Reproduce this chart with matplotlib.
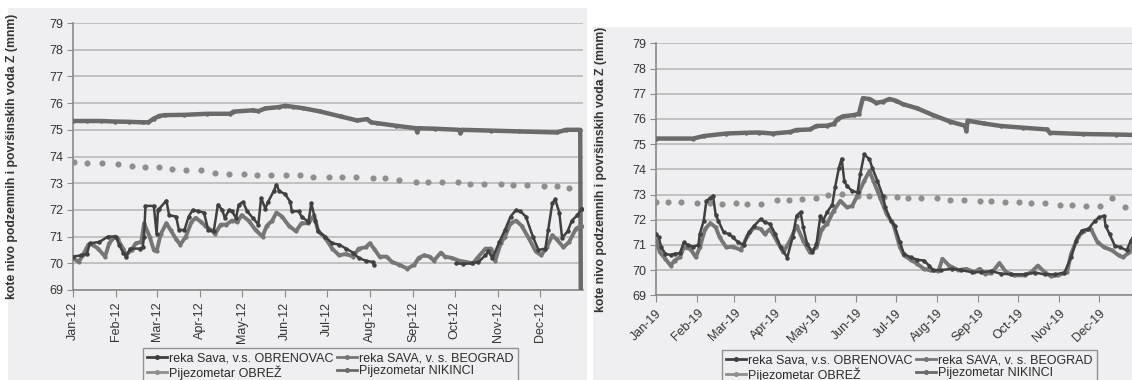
import numpy as np
import matplotlib
matplotlib.use('Agg')
import matplotlib.pyplot as plt
import matplotlib.dates as mdates
from matplotlib.patches import Rectangle
from matplotlib.lines import Line2D

plt.rcParams['font.family'] = ['Liberation Sans', 'DejaVu Sans']

# ---------------------------------------------------------------------------
# 2012 series (day of year, level in m a.s.l.)
sava_obr_12_day = [0, 6, 10, 12, 19, 25, 31, 33, 36, 38, 41, 48, 50, 51, 52, 58, 60, 61, 62, 67,
                   69, 74, 76, 80, 83, 86, 90, 94, 97, 101, 104, 107, 109, 112, 114, 117, 119, 122,
                   125, 129, 133, 135, 138, 140, 144, 146, 148, 152, 156, 157, 162, 164, 169, 171,
                   174, 176, 181, 186, 191, 196, 201, 205, 210, 215, 216, 245,
                   275, 280, 286, 291, 296, 298, 301, 306, 310, 314, 318, 321, 325, 330, 334, 339,
                   341, 344, 346, 349, 351, 355, 358, 362, 365]
sava_obr_12 = [70.25, 70.3, 70.35, 70.75, 70.8, 71.0, 71.0, 70.7, 70.4, 70.25, 70.55, 70.55, 70.6,
               71.0, 72.15, 72.15, 71.1, 72.0, 72.05, 72.35, 71.8, 71.75, 71.25, 71.25, 71.75, 72.0,
               71.95, 71.9, 71.25, 71.2, 72.2, 72.0, 71.7, 72.0, 71.95, 71.7, 72.2, 72.3, 71.95,
               71.7, 71.45, 72.45, 72.05, 72.3, 72.7, 72.95, 72.7, 72.6, 72.3, 71.95, 71.95, 71.75,
               71.55, 72.25, 71.6, 71.2, 71.0, 70.75, 70.7, 70.55, 70.4, 70.2, 70.1, 70.05, 69.95,
               np.nan,
               70.0, 69.98, 70.0, 70.05, 70.3, 70.45, 70.2, 70.8, 71.25, 71.75, 72.0, 71.95, 71.75,
               71.0, 70.5, 70.55, 71.25, 72.25, 72.4, 71.9, 70.95, 71.2, 71.6, 71.8, 72.05]

sava_bg_12_day = [0, 4, 7, 11, 14, 18, 23, 26, 30, 32, 36, 38, 42, 45, 49, 51, 55, 58, 60, 63, 67,
                  70, 74, 77, 81, 85, 88, 92, 95, 99, 102, 106, 110, 114, 118, 121, 126, 131, 136,
                  139, 143, 146, 150, 155, 160, 164, 169, 173, 176, 181, 186, 191, 196, 201, 205,
                  210, 213, 216, 220, 225, 229, 234, 240, 245, 248, 252, 256, 259, 264, 267, 272,
                  277, 282, 287, 291, 296, 300, 303, 307, 310, 314, 318, 322, 327, 332, 336, 340,
                  344, 347, 352, 356, 361, 365]
sava_bg_12 = [70.2, 70.05, 70.3, 70.7, 70.7, 70.55, 70.25, 70.75, 71.0, 70.9, 70.55, 70.3, 70.5,
              70.75, 70.8, 71.5, 71.0, 70.5, 70.45, 71.1, 71.5, 71.25, 70.9, 70.7, 71.0, 71.55,
              71.7, 71.55, 71.4, 71.25, 71.1, 71.45, 71.45, 71.6, 71.55, 71.8, 71.6, 71.25, 71.0,
              71.4, 71.6, 71.9, 71.75, 71.4, 71.2, 71.5, 71.5, 71.8, 71.2, 70.95, 70.55, 70.3,
              70.35, 70.25, 70.55, 70.6, 70.75, 70.55, 70.25, 70.25, 70.05, 69.95, 69.8, 69.95,
              70.2, 70.3, 70.25, 70.1, 70.4, 70.25, 70.2, 70.1, 70.05, 70.0, 70.25, 70.55, 70.55,
              70.1, 70.75, 71.0, 71.5, 71.6, 71.4, 70.95, 70.45, 70.3, 70.6, 71.05, 70.9, 70.6,
              70.8, 71.3, 71.4]

nikinci_12_day = [0, 10, 20, 30, 40, 50, 54, 58, 62, 66, 80, 96, 113, 115, 129, 133, 138, 148, 152,
                  158, 165, 177, 192, 204, 211, 214, 218, 232, 246, 247, 248, 260, 277, 278, 279,
                  300, 320, 347, 354, 364, 365]
nikinci_12 = [75.33, 75.33, 75.33, 75.31, 75.3, 75.28, 75.28, 75.42, 75.52, 75.55, 75.56, 75.6,
              75.6, 75.68, 75.73, 75.7, 75.8, 75.85, 75.9, 75.86, 75.81, 75.69, 75.5, 75.35, 75.4,
              75.28, 75.25, 75.15, 75.06, 74.92, 75.06, 75.04, 75.0, 74.88, 75.0, 74.97, 74.94,
              74.9, 75.0, 75.0, 60.0]

obrez_12_day = [1, 10, 21, 32, 42, 52, 62, 71, 81, 92, 102, 112, 123, 132, 142, 153, 163, 172, 184,
                193, 203, 215, 224, 234, 246, 255, 265, 276, 285, 295, 307, 316, 326, 338, 347, 356]
obrez_12 = [73.79, 73.75, 73.75, 73.71, 73.66, 73.6, 73.6, 73.54, 73.48, 73.5, 73.4, 73.35, 73.35,
            73.31, 73.31, 73.31, 73.29, 73.25, 73.25, 73.25, 73.22, 73.19, 73.19, 73.12, 73.06,
            73.03, 73.03, 73.03, 72.98, 72.98, 72.98, 72.93, 72.93, 72.88, 72.88, 72.81]

# ---------------------------------------------------------------------------
# 2019 series
sava_obr_19_day = [0, 2, 4, 7, 11, 14, 18, 21, 24, 28, 32, 33, 36, 38, 41, 43, 45, 47, 51, 55, 58,
                   62, 66, 70, 74, 79, 82, 86, 90, 94, 99, 103, 106, 109, 111, 114, 118, 121, 124,
                   126, 129, 133, 135, 138, 140, 142, 144, 148, 152, 154, 157, 161, 163, 167, 171,
                   173, 177, 180, 184, 187, 192, 197, 202, 206, 209, 215, 223, 230, 238, 245, 253,
                   260, 268, 278, 286, 293, 301, 308, 313, 317, 321, 326, 331, 334, 338, 339, 342,
                   346, 350, 355, 358, 362]
sava_obr_19 = [71.43, 71.3, 70.9, 70.65, 70.6, 70.65, 70.67, 71.1, 71.0, 70.93, 71.0, 71.43, 71.96,
               72.75, 72.86, 72.95, 72.2, 71.96, 71.5, 71.43, 71.3, 71.1, 71.0, 71.5, 71.76, 72.03,
               71.9, 71.83, 71.43, 70.9, 70.5, 71.3, 72.16, 72.3, 71.7, 71.04, 70.7, 71.04, 72.16,
               71.96, 72.3, 72.6, 73.28, 74.07, 74.42, 73.54, 73.34, 73.14, 73.08, 73.8, 74.59,
               74.4, 74.07, 73.54, 72.95, 72.49, 71.96, 71.76, 71.1, 70.64, 70.51, 70.41, 70.38,
               70.18, 70.0, 70.0, 70.05, 70.0, 69.92, 69.92, 69.96, 69.86, 69.83, 69.83, 69.9,
               69.83, 69.83, 69.9, 70.51, 71.17, 71.57, 71.63, 71.96, 72.09, 72.16, 71.76, 71.43,
               70.97, 70.91, 70.78, 71.17, 71.5]

sava_bg_19_day = [0, 3, 7, 11, 14, 18, 21, 26, 30, 33, 37, 41, 45, 48, 53, 58, 64, 69, 74, 79, 82,
                  86, 91, 96, 101, 106, 111, 116, 121, 125, 129, 134, 139, 144, 148, 153, 157, 161,
                  164, 169, 174, 179, 184, 187, 192, 197, 202, 207, 213, 216, 221, 228, 234, 240,
                  244, 248, 253, 259, 264, 270, 278, 283, 288, 293, 298, 303, 310, 313, 318, 323,
                  328, 333, 338, 344, 349, 352, 357, 362]
sava_bg_19 = [71.17, 70.7, 70.45, 70.18, 70.38, 70.51, 70.9, 70.84, 70.51, 70.9, 71.63, 71.86,
              71.7, 71.3, 70.9, 70.93, 70.8, 71.37, 71.7, 71.63, 71.43, 71.63, 71.17, 70.7, 71.17,
              71.76, 71.17, 70.7, 70.9, 71.63, 71.83, 72.36, 72.75, 72.49, 72.55, 73.08, 73.54,
              73.93, 73.54, 72.88, 72.22, 71.83, 70.9, 70.58, 70.41, 70.25, 70.05, 69.99, 69.96,
              70.45, 70.18, 70.0, 70.05, 69.92, 70.05, 69.86, 69.88, 70.28, 69.92, 69.79, 69.79,
              69.92, 70.18, 69.92, 69.75, 69.79, 69.92, 70.64, 71.3, 71.57, 71.63, 71.1, 70.91,
              70.78, 70.58, 70.51, 70.7, 71.3]

nikinci_19_day = [0, 28, 36, 53, 68, 78, 88, 101, 106, 116, 121, 129, 134, 137, 141, 149, 153, 156,
                  161, 166, 171, 176, 181, 186, 197, 209, 222, 233, 234, 235, 247, 260, 277, 295,
                  297, 322, 347, 364]
nikinci_19 = [75.22, 75.22, 75.32, 75.42, 75.45, 75.46, 75.42, 75.48, 75.56, 75.58, 75.72, 75.73,
              75.8, 76.0, 76.1, 76.15, 76.2, 76.82, 76.79, 76.64, 76.68, 76.79, 76.72, 76.59,
              76.42, 76.15, 75.89, 75.73, 75.53, 75.93, 75.82, 75.72, 75.65, 75.58, 75.45, 75.4,
              75.38, 75.36]

obrez_19_day = [0, 9, 19, 31, 41, 50, 60, 69, 79, 91, 100, 110, 121, 130, 140, 152, 161, 172, 182,
                190, 200, 212, 222, 232, 244, 253, 263, 274, 283, 293, 305, 314, 324, 335, 344, 354]
obrez_19 = [72.72, 72.7, 72.7, 72.68, 72.66, 72.64, 72.68, 72.64, 72.64, 72.78, 72.78, 72.82,
            72.88, 72.97, 73.01, 72.95, 72.95, 72.9, 72.9, 72.86, 72.86, 72.86, 72.8, 72.8, 72.75,
            72.75, 72.71, 72.71, 72.66, 72.66, 72.59, 72.59, 72.54, 72.54, 72.86, 72.49]

lab_obr = 'reka Sava, v.s. OBRENOVAC'
lab_bg = 'reka SAVA, v. s. BEOGRAD'
lab_obrez = 'Pijezometar OBREŽ'
lab_nik = 'Pijezometar NIKINCI'
ylab = 'kote nivo podzemnih i površinskih voda Z (mnm)'

bg = '#efeff1'
c_obr = '#404040'
c_bg = '#767676'
c_nik = '#6a6a6a'
c_obrez = '#8e8e8e'
ftsize = 9

W, H = 1132, 380
fig = plt.figure(figsize=(W / 100, H / 100), dpi=100)
fig.patch.set_facecolor('white')

# gray panels behind each chart
fig.add_artist(Rectangle((8 / W, 0), 579 / W, 372 / H, transform=fig.transFigure,
                         facecolor=bg, edgecolor='none', zorder=-10))
fig.add_artist(Rectangle((593 / W, 0), 539 / W, 353 / H, transform=fig.transFigure,
                         facecolor=bg, edgecolor='none', zorder=-10))


def to_dates(year, days):
    return np.datetime64('%d-01-01' % year) + np.array(days).astype('timedelta64[D]')


def draw(ax, year, obr_d, obr, bgd_d, bgd, nik_d, nik, ob_d, ob):
    ax.set_facecolor(bg)
    ax.plot(to_dates(year, nik_d), nik, color=c_nik, lw=3.2, marker='o', ms=2.2, zorder=3)
    ax.plot(to_dates(year, ob_d), ob, color=c_obrez, lw=0, marker='o', ms=3.4, zorder=3)
    ax.plot(to_dates(year, bgd_d), bgd, color=c_bg, lw=2.8, marker='o', ms=2.0, zorder=4)
    ax.plot(to_dates(year, obr_d), obr, color=c_obr, lw=1.8, marker='o', ms=2.2, zorder=5)

    ax.set_ylim(69, 79)
    ax.set_yticks(range(69, 80))
    ax.set_xlim(np.datetime64('%d-01-01' % year), np.datetime64('%d-01-01' % (year + 1)))
    months = [np.datetime64('%d-%02d-01' % (year, m)) for m in range(1, 13)]
    ax.set_xticks(months)
    ax.xaxis.set_major_formatter(mdates.DateFormatter('%b-%y'))
    ax.grid(axis='y', color='#b4b4b4', lw=1.1)
    ax.set_axisbelow(True)
    for s in ['top', 'right']:
        ax.spines[s].set_visible(False)
    for s in ['left', 'bottom']:
        ax.spines[s].set_color('#8a8a8a')
        ax.spines[s].set_linewidth(1.2)
    ax.tick_params(axis='x', direction='out', length=5, color='#8a8a8a', labelsize=ftsize,
                   labelcolor='#333333')
    ax.tick_params(axis='y', direction='out', length=4, color='#8a8a8a', labelsize=ftsize,
                   labelcolor='#333333', pad=3)
    ax.set_ylabel(ylab, fontsize=8.8, fontweight='bold', color='#333333')


# legend keys: short line with a marker for every series
keys = [Line2D([], [], color=c_obr, lw=2.0, marker='o', ms=2.6),
        Line2D([], [], color=c_obrez, lw=2.0, marker='o', ms=2.6),
        Line2D([], [], color=c_bg, lw=2.0, marker='o', ms=2.6),
        Line2D([], [], color=c_nik, lw=2.0, marker='o', ms=2.6)]
key_labels = [lab_obr, lab_obrez, lab_bg, lab_nik]


def add_legend(x0, y0):
    leg = fig.legend(keys, key_labels, loc='upper left',
                     bbox_to_anchor=(x0 / W, 1 - y0 / H),
                     bbox_transform=fig.transFigure, ncol=2, fontsize=9,
                     frameon=True, fancybox=False, handlelength=1.6, handletextpad=0.15,
                     columnspacing=0.25, labelspacing=0.05, borderpad=0.35, borderaxespad=0)
    leg.get_frame().set_facecolor(bg)
    leg.get_frame().set_edgecolor('#7a7a7a')
    leg.get_frame().set_linewidth(1.0)
    for t in leg.get_texts():
        t.set_color('#2a2a2a')


# left chart, 2012
ax1 = fig.add_axes([73 / W, 90 / H, 510 / W, 267 / H])
draw(ax1, 2012, sava_obr_12_day, sava_obr_12, sava_bg_12_day, sava_bg_12,
     nikinci_12_day, nikinci_12, obrez_12_day, obrez_12)
for t in ax1.get_xticklabels():
    t.set_rotation(90)
    t.set_ha('center')
ax1.yaxis.set_label_coords(-0.108, 0.5)

# right chart, 2019 (runs past the edge of the figure)
ax2 = fig.add_axes([656 / W, 84.7 / H, 484 / W, 252 / H])
draw(ax2, 2019, sava_obr_19_day, sava_obr_19, sava_bg_19_day, sava_bg_19,
     nikinci_19_day, nikinci_19, obrez_19_day, obrez_19)
for t in ax2.get_xticklabels():
    t.set_rotation(45)
    t.set_ha('right')
    t.set_rotation_mode('anchor')
ax2.yaxis.set_label_coords(-0.102, 0.5)

add_legend(143, 348)
add_legend(722, 350)

plt.savefig('out.png', dpi=100)
